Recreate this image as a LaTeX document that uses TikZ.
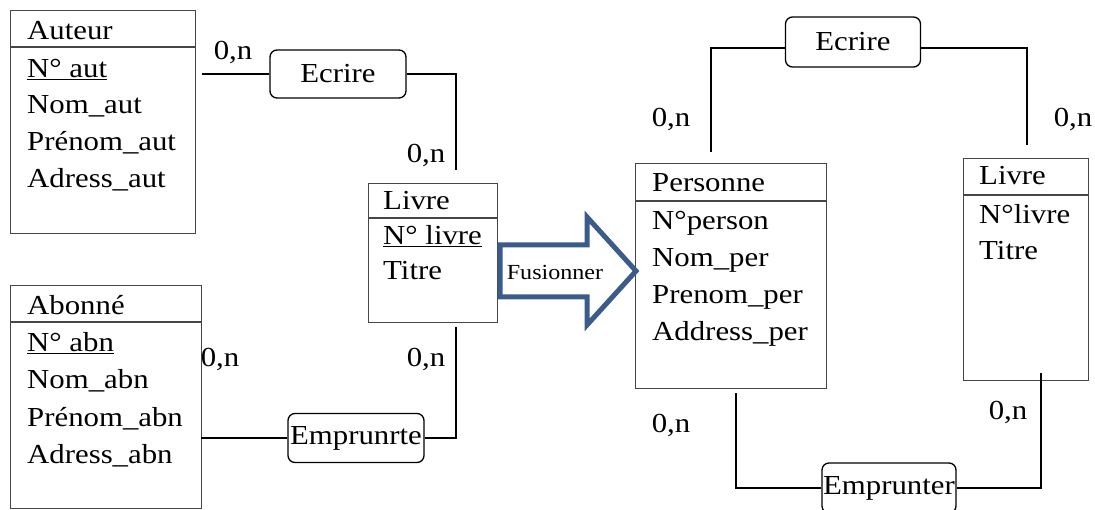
\documentclass[tikz,border=0pt]{standalone}
\usepackage{fontspec}
\setmainfont{Liberation Serif}[FakeStretch=1.12]
\usetikzlibrary{positioning}

\definecolor{boxgray}{RGB}{70,70,70}
\definecolor{arrowblue}{RGB}{59,91,138}

\tikzset{
  ent/.style={draw=boxgray, line width=1.2pt, anchor=north west, inner sep=0pt},
  hline/.style={draw=boxgray, line width=1.2pt},
  rel/.style={draw, rounded corners=7pt, line width=1.3pt, inner sep=0pt,
    minimum width=136pt, minimum height=48pt},
  attr/.style={anchor=base west, inner sep=0pt},
  card/.style={anchor=base, inner sep=0pt},
  link/.style={line width=1.8pt}
}

\begin{document}
\begin{tikzpicture}[x=1pt, y=-1pt, font=\fontsize{27.5}{33}\selectfont]
          \useasboundingbox (0,0) rectangle (1095,510);

          % Entities (left)
          \node[ent, minimum width=185pt, minimum height=223pt] (auteur) at (10,10) {};
          \draw[hline] ([yshift=-37pt]auteur.north west) -- ([yshift=-37pt]auteur.north east);
          \node[attr] (auteurT) at (27,40) {Auteur};
          \node[attr] (auteur1) at (27,78) {\underline{N° aut}};
          \node[attr] (auteur2) at (27,114) {Nom\_aut};
          \node[attr] (auteur3) at (27,151) {Prénom\_aut};
          \node[attr] (auteur4) at (27,188) {Adress\_aut};

          \node[ent, minimum width=191pt, minimum height=223pt] (abonne) at (10,285) {};
          \draw[hline] ([yshift=-37pt]abonne.north west) -- ([yshift=-37pt]abonne.north east);
          \node[attr] (abonneT) at (27,315) {Abonné};
          \node[attr] (abonne1) at (27,352) {\underline{N° abn}};
          \node[attr] (abonne2) at (27,389) {Nom\_abn};
          \node[attr] (abonne3) at (27,426) {Prénom\_abn};
          \node[attr] (abonne4) at (27,463) {Adress\_abn};

          \node[ent, minimum width=129pt, minimum height=139pt] (livreA) at (368,183) {};
          \draw[hline] ([yshift=-35pt]livreA.north west) -- ([yshift=-35pt]livreA.north east);
          \node[attr] (livreAT) at (383,210) {Livre};
          \node[attr] (livreA1) at (383,245) {\underline{N° livre}};
          \node[attr] (livreA2) at (383,280) {Titre};

          % Entities (right)
          \node[ent, minimum width=191pt, minimum height=225pt] (personne) at (635,163) {};
          \draw[hline] ([yshift=-38pt]personne.north west) -- ([yshift=-38pt]personne.north east);
          \node[attr] (personneT) at (652,192) {Personne};
          \node[attr] (personne1) at (652,230) {N°person};
          \node[attr] (personne2) at (652,267) {Nom\_per};
          \node[attr] (personne3) at (652,304) {Prenom\_per};
          \node[attr] (personne4) at (652,341) {Address\_per};

          \node[ent, minimum width=125pt, minimum height=222pt] (livreB) at (963,158) {};
          \draw[hline] ([yshift=-37pt]livreB.north west) -- ([yshift=-37pt]livreB.north east);
          \node[attr] (livreBT) at (979,185) {Livre};
          \node[attr] (livreB1) at (979,224) {N°livre};
          \node[attr] (livreB2) at (979,260) {Titre};

          % Relations
          \node[rel] (ecrireA) at (338,74) {Ecrire};
          \node[rel, minimum height=49pt] (emprunrte) at (356,438) {Emprunrte};
          \node[rel, minimum width=135pt, minimum height=50pt] (ecrireB) at (853,42) {Ecrire};
          \node[rel, minimum width=134pt, minimum height=50pt] (emprunter) at (889,488) {Emprunter};

          % Free ends
          \coordinate (auteurEnd) at (202,74);
          \coordinate (livreATop) at (456,170);
          \coordinate (abonneEnd) at (201,438);
          \coordinate (livreABot) at (456,327);
          \coordinate (personneTop) at (711,152);
          \coordinate (livreBTop) at (1027,145);
          \coordinate (personneBot) at (736,393);
          \coordinate (livreBBot) at (1041,373);

          % Edges
          \draw[link] (ecrireA.west) -- (auteurEnd);
          \draw[link] (ecrireA.east) -| (livreATop);
          \draw[link] (emprunrte.west) -- (abonneEnd);
          \draw[link] (emprunrte.east) -| (livreABot);
          \draw[link] ([yshift=-6pt]ecrireB.west) -| (personneTop);
          \draw[link] ([yshift=-6pt]ecrireB.east) -| (livreBTop);
          \draw[link] (emprunter.west) -| (personneBot);
          \draw[link] (emprunter.east) -| (livreBBot);

          % Cardinalities
          \node[card] (c1) at (233,60) {0,n};
          \node[card] (c2) at (426,163) {0,n};
          \node[card] (c3) at (220,367) {0,n};
          \node[card] (c4) at (426,367) {0,n};
          \node[card] (c5) at (671,127) {0,n};
          \node[card] (c6) at (1073,127) {0,n};
          \node[card] (c7) at (671,432) {0,n};
          \node[card] (c8) at (1008,420) {0,n};

          % Merge arrow
          \draw[arrowblue, line width=5pt, line join=miter]
            (500,245) -- (587,245) -- (587,217) -- (636,271) -- (587,325)
            -- (587,297) -- (500,297) -- cycle;
          \node[font=\fontsize{21.5}{26}\selectfont] (fusion) at (555,272) {Fusionner};

        \end{tikzpicture}
\end{document}
